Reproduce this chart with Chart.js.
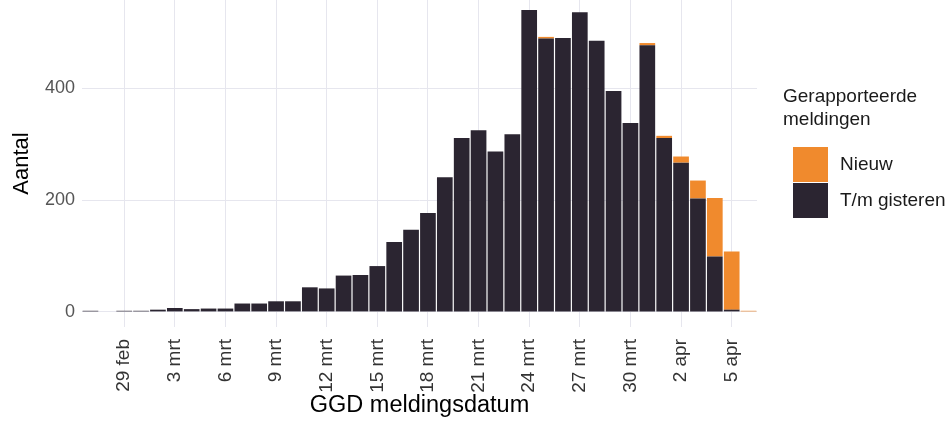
<!DOCTYPE html>
<html>
<head>
<meta charset="utf-8">
<script src="https://cdn.jsdelivr.net/npm/chart.js@4.4.1/dist/chart.umd.min.js"></script>
<style>
  html, body { margin: 0; padding: 0; background: #fff; }
  #wrap { position: relative; width: 948px; height: 421px; font-family: "Liberation Sans", Arial, sans-serif; }
  #legend { position: absolute; left: 783px; top: 84px; color: #1a1a1a; font-size: 19px; }
  #legend .title { line-height: 23px; margin-bottom: 16px; }
  #legend .item { display: flex; align-items: center; height: 36px; margin-left: 10px; }
  #legend .box { width: 35px; height: 35px; margin-right: 12px; }
</style>
</head>
<body>
<div id="wrap">
  <canvas id="chart" width="948" height="421"></canvas>
  <div id="legend"></div>
</div>
<script>
// meldingsdatum, 27 feb t/m 6 apr
const dates = [
  '27 feb', '28 feb', '29 feb',
  '1 mrt', '2 mrt', '3 mrt', '4 mrt', '5 mrt', '6 mrt', '7 mrt', '8 mrt', '9 mrt', '10 mrt',
  '11 mrt', '12 mrt', '13 mrt', '14 mrt', '15 mrt', '16 mrt', '17 mrt', '18 mrt', '19 mrt', '20 mrt',
  '21 mrt', '22 mrt', '23 mrt', '24 mrt', '25 mrt', '26 mrt', '27 mrt', '28 mrt', '29 mrt', '30 mrt', '31 mrt',
  '1 apr', '2 apr', '3 apr', '4 apr', '5 apr', '6 apr'
];

// T/m gisteren gemeld
const tmGisteren = [
  2, 0, 2,
  2, 4, 7, 5, 6, 6, 15, 15, 19, 19,
  44, 42, 65, 66, 82, 125, 147, 177, 241, 311,
  325, 287, 318, 540, 489, 490, 536, 485, 395, 338, 477,
  311, 267, 203, 99, 4, 0
];

// Nieuw gemeld
const nieuw = [
  0, 0, 0,
  0, 0, 0, 0, 0, 0, 0, 0, 0, 0,
  0, 0, 0, 0, 0, 0, 0, 0, 0, 0,
  0, 0, 0, 0, 3, 0, 0, 0, 0, 0, 4,
  4, 11, 32, 105, 104, 2
];

const xTickLabels = ['29 feb', '3 mrt', '6 mrt', '9 mrt', '12 mrt', '15 mrt', '18 mrt',
  '21 mrt', '24 mrt', '27 mrt', '30 mrt', '2 apr', '5 apr'];
const yTicks = [0, 200, 400];

const darkColor = '#2b2531';
const orangeColor = '#f08a2d';
const gridColor = '#e6e6ee';

const series = [
  { label: 'Nieuw', data: nieuw, color: orangeColor },
  { label: 'T/m gisteren', data: tmGisteren, color: darkColor }
];

// legend (ggplot style, title on two lines)
const legendEl = document.getElementById('legend');
legendEl.innerHTML = '<div class="title">Gerapporteerde<br>meldingen</div>' +
  series.map(s => '<div class="item"><span class="box" style="background:' + s.color + '"></span>' + s.label + '</div>').join('');

const ctx = document.getElementById('chart').getContext('2d');
new Chart(ctx, {
  type: 'bar',
  data: {
    labels: dates,
    // first dataset is drawn at the bottom of the stack
    datasets: series.slice().reverse().map(s => ({
      label: s.label,
      data: s.data,
      backgroundColor: s.color,
      borderWidth: 0,
      barPercentage: 0.93,
      categoryPercentage: 1
    }))
  },
  options: {
    responsive: false,
    animation: false,
    layout: { padding: { left: 0, right: 191, top: 0, bottom: 0 } },
    plugins: {
      legend: { display: false },
      tooltip: { enabled: false }
    },
    scales: {
      x: {
        stacked: true,
        border: { display: false },
        grid: {
          offset: false,
          drawTicks: false,
          color: c => xTickLabels.includes(dates[c.index]) ? gridColor : 'rgba(0,0,0,0)'
        },
        ticks: {
          autoSkip: false,
          minRotation: 90,
          maxRotation: 90,
          padding: 12,
          color: '#333',
          font: { family: 'Liberation Sans', size: 19 },
          callback: (v, i) => xTickLabels.includes(dates[i]) ? dates[i] : ''
        },
        title: {
          display: true,
          text: 'GGD meldingsdatum',
          color: '#000',
          font: { family: 'Liberation Sans', size: 23.5 },
          padding: { top: 0, bottom: 1 }
        },
        afterFit: axis => {
          axis.height = 94;
          axis.paddingLeft = 0;
          axis.paddingRight = 0;
        }
      },
      y: {
        stacked: true,
        min: -27,
        max: 558,
        border: { display: false },
        grid: { drawTicks: false, color: gridColor },
        afterBuildTicks: axis => { axis.ticks = yTicks.map(v => ({ value: v })); },
        ticks: {
          padding: 7,
          color: '#555',
          font: { family: 'Liberation Sans', size: 18 }
        },
        title: {
          display: true,
          text: 'Aantal',
          color: '#000',
          font: { family: 'Liberation Sans', size: 22 },
          padding: { top: 9, bottom: 0 }
        },
        afterFit: axis => {
          axis.width = 82;
          axis.paddingTop = 0;
          axis.paddingBottom = 0;
        }
      }
    }
  }
});
</script>
</body>
</html>
